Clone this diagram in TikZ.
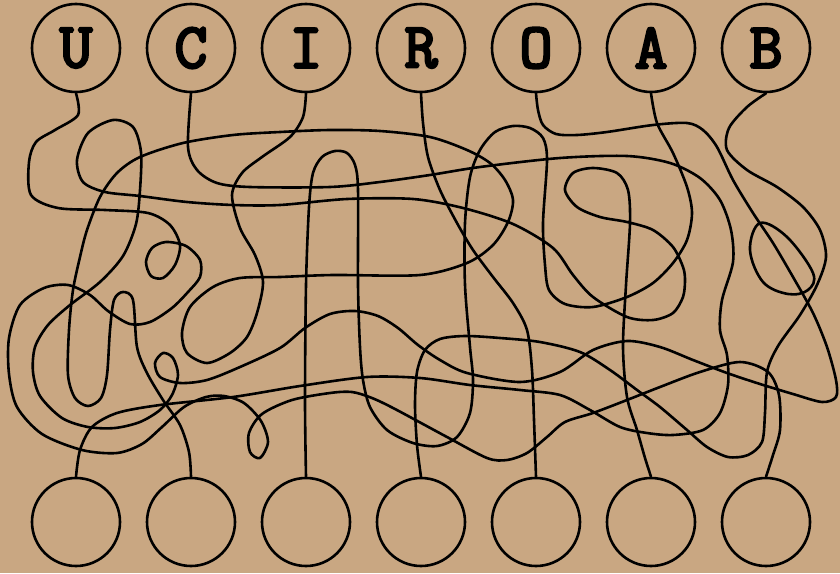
\documentclass[tikz,border=0pt]{standalone}
\usepackage{fontspec}
\newfontfamily\letterfont{Latin Modern Mono}[FakeBold=4]
\definecolor{paper}{RGB}{201,167,130}
\begin{document}
\begin{tikzpicture}[x=0.5pt,y=-0.5pt,
  ring/.style={draw=black, line width=1.3pt, circle, minimum size=44pt, inner sep=0pt},
  wire/.style={draw=black, line width=1.3pt, line cap=round, line join=round},
  letter/.style={font=\letterfont\fontsize{32}{32}\selectfont}]
\fill[paper] (0,0) rectangle (840,573);
\useasboundingbox (0,0) rectangle (840,573);
% top circles
\node[ring,letter] (U) at (76,48) {U};
\node[ring,letter] (C) at (191,48) {C};
\node[ring,letter] (I) at (306,48) {I};
\node[ring,letter] (R) at (421,48) {R};
\node[ring,letter] (O) at (536,48) {O};
\node[ring,letter] (A) at (651,48) {A};
\node[ring,letter] (B) at (766,48) {B};
% bottom circles
\node[ring] (b1) at (76,522) {};
\node[ring] (b2) at (191,522) {};
\node[ring] (b3) at (306,522) {};
\node[ring] (b4) at (421,522) {};
\node[ring] (b5) at (536,522) {};
\node[ring] (b6) at (651,522) {};
\node[ring] (b7) at (766,522) {};
% U
\draw[wire] plot[smooth,tension=0.5] coordinates {(U.south) (78,115) (55,130) (36,142) (29,162) (31,195) (58,208) (105,210) (148,213) (170,225) (180,245) (175,265) (163,278) (151,276) (146,262) (152,248) (166,242) (186,246) (200,260) (200,277) (188,292) (172,308) (150,322) (130,324) (108,311) (90,295) (68,285) (44,288) (20,305) (9,338) (9,374) (17,407) (42,434) (82,450) (117,453) (142,444) (162,427) (184,407) (206,397) (224,396) (244,403) (261,421) (268,442) (260,458) (250,452) (249,433) (262,414) (292,400) (330,393) (352,392) (372,398) (395,409) (447,437) (487,458) (507,460) (527,453) (547,437) (565,422) (593,413) (627,400) (660,387) (700,372) (740,362) (768,372) (779,395) (780,430) (773,455) (b7.north)};
% C
\draw[wire] plot[smooth,tension=0.5] coordinates {(C.south) (188,147) (197,170) (217,183) (250,187) (330,187) (380,182) (430,175) (480,167) (560,158) (627,156) (670,163) (700,178) (720,200) (731,230) (733,262) (722,300) (720,330) (727,355) (728,385) (720,413) (703,430) (673,435) (647,433) (620,427) (590,410) (560,395) (520,390) (470,385) (420,378) (367,377) (300,386) (233,397) (160,405) (117,413) (92,427) (80,450) (b1.north)};
% I
\draw[wire] plot[smooth,tension=0.5] coordinates {(I.south) (303,117) (290,137) (262,157) (242,173) (232,195) (240,228) (255,255) (263,282) (257,313) (247,337) (230,353) (207,363) (187,353) (182,333) (190,307) (213,287) (240,278) (280,277) (333,275) (420,275) (467,263) (493,245) (508,222) (513,200) (505,180) (490,163) (467,150) (430,137) (380,131) (330,130) (280,132) (233,135) (183,143) (140,157) (117,173) (100,197) (87,230) (80,257) (73,290) (69,330) (68,375) (75,398) (88,406) (101,398) (107,375) (110,330) (114,300) (123,292) (133,300) (137,347) (147,373) (163,400) (180,425) (189,452) (b2.north)};
% R
\draw[wire] plot[smooth,tension=0.5] coordinates {(R.south) (423,123) (428,157) (440,190) (457,223) (473,250) (493,277) (513,303) (527,330) (532,370) (534,420) (b5.north)};
% O
\draw[wire] plot[smooth,tension=0.5] coordinates {(O.south) (538,110) (543,125) (556,134) (577,135) (607,132) (653,125) (687,123) (703,130) (717,147) (733,180) (753,213) (773,243) (793,277) (813,313) (827,347) (836,380) (836,397) (822,402) (793,394) (760,384) (727,373) (693,360) (660,347) (627,341) (593,350) (560,372) (520,382) (467,373) (440,360) (418,345) (398,328) (378,316) (355,311) (330,314) (305,328) (280,348) (240,367) (207,380) (180,383) (160,377) (155,363) (163,353) (173,358) (178,375) (172,395) (160,410) (140,422) (115,428) (88,427) (62,418) (40,396) (33,372) (35,347) (48,325) (70,305) (100,282) (123,256) (136,224) (140,190) (141,152) (133,127) (113,120) (88,133) (77,160) (83,182) (105,192) (140,196) (187,202) (233,205) (280,205) (347,199) (413,199) (463,208) (513,224) (553,248) (573,275) (593,297) (627,317) (653,320) (673,313) (683,297) (685,280) (683,267) (673,247) (653,230) (627,222) (600,217) (577,207) (565,190) (573,173) (593,168) (617,173) (628,190) (630,223) (626,285) (623,347) (627,397) (637,430) (645,458) (b6.north)};
% A
\draw[wire] plot[smooth,tension=0.5] coordinates {(A.south) (657,123) (673,153) (687,187) (692,213) (687,240) (673,263) (653,283) (627,297) (593,307) (565,304) (549,290) (545,265) (543,223) (547,160) (543,138) (530,128) (513,126) (495,132) (480,150) (470,177) (465,223) (465,285) (470,347) (473,380) (470,413) (457,437) (437,446) (413,443) (387,430) (370,407) (363,380) (360,347) (358,285) (358,190) (355,165) (347,153) (335,151) (322,157) (313,173) (309,207) (306,285) (305,400) (b3.north)};
% B
\draw[wire] plot[smooth,tension=0.5] coordinates {(B.south) (747,107) (729,128) (727,150) (747,170) (777,187) (803,207) (820,230) (826,257) (817,285) (800,315) (778,346) (767,372) (765,413) (762,442) (748,455) (728,457) (707,447) (687,430) (660,407) (637,390) (610,370) (580,352) (540,342) (500,338) (465,336) (440,339) (425,350) (417,372) (415,405) (417,445) (b4.north)};
% small oval at right
\draw[wire] plot[smooth cycle,tension=0.6] coordinates {(760,223) (787,237) (813,273) (808,290) (788,294) (763,282) (750,250)};
\end{tikzpicture}
\end{document}
